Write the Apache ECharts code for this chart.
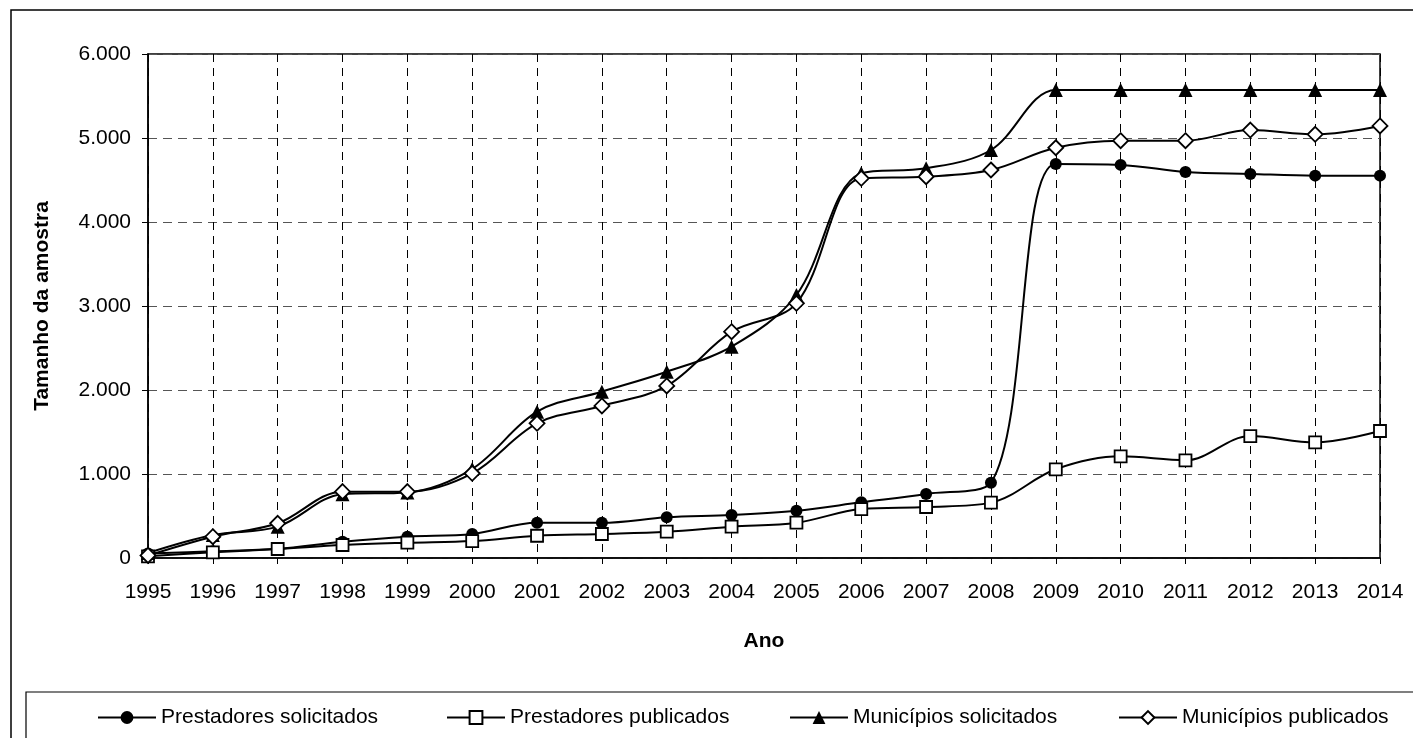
<!DOCTYPE html>
<html><head><meta charset="utf-8">
<script src="https://cdn.jsdelivr.net/npm/echarts@6/dist/echarts.min.js"></script>
<style>html,body{margin:0;padding:0;background:#fff}#c{width:1413px;height:738px}</style>
</head><body><div id="c"></div>
<script>
const years = ['1995','1996','1997','1998','1999','2000','2001','2002','2003','2004','2005','2006','2007','2008','2009','2010','2011','2012','2013','2014'];
const prestSolic = [55, 80, 110, 194, 254, 286, 420, 420, 484, 512, 563, 663, 762, 897, 4691, 4680, 4596, 4572, 4552, 4552];
const prestPubl = [20, 68, 107, 155, 182, 202, 265, 286, 313, 373, 420, 583, 607, 659, 1056, 1210, 1163, 1452, 1377, 1512];
const munSolic = [60, 274, 373, 760, 780, 1060, 1742, 1980, 2218, 2516, 3131, 4579, 4639, 4857, 5570, 5570, 5570, 5570, 5570, 5570];
const munPubl = [30, 254, 413, 790, 790, 1008, 1603, 1810, 2048, 2694, 3032, 4520, 4540, 4619, 4884, 4968, 4968, 5095, 5044, 5143];
const names = ['Prestadores solicitados','Prestadores publicados','Municípios solicitados','Municípios publicados'];

const FONT = 'Liberation Sans, Arial, sans-serif';
const chart = echarts.init(document.getElementById('c'), null, {renderer:'canvas'});
function mk(name, data, symbol, size, fill){
  return {
    name, type:'line', data, smooth:0.35, symbol, symbolSize:size,
    lineStyle:{color:'#000', width:2},
    itemStyle:{color:fill, borderColor:'#000', borderWidth: fill==='#fff'?1.8:0},
    emphasis:{disabled:true}, animation:false
  };
}
const legendLefts = [92, 441, 784, 1113];
chart.setOption({
  animation:false,
  backgroundColor:'#fff',
  textStyle:{fontFamily:FONT},
  graphic:[
    {type:'rect', shape:{x:11,y:10,width:1600,height:900}, style:{fill:'none', stroke:'#000', lineWidth:1.5}, z:-10},
    {type:'rect', shape:{x:26,y:692,width:1600,height:200}, style:{fill:'none', stroke:'#000', lineWidth:1.2}, z:-10}
  ],
  grid:{left:148, right:33, top:54, bottom:180, show:true, borderColor:'#000', borderWidth:1.5, containLabel:false},
  legend: names.map((n,i)=>({
    data:[n], left:legendLefts[i], top:702, itemWidth:58, itemHeight:16, itemGap:0,
    textStyle:{fontFamily:FONT, fontSize:21, color:'#000'}, selectedMode:false
  })),
  xAxis:{
    type:'category', data:years, boundaryGap:false,
    name:'Ano', nameLocation:'middle', nameGap:73,
    nameTextStyle:{fontFamily:FONT, fontSize:21, fontWeight:'bold', color:'#000'},
    axisLine:{lineStyle:{color:'#000', width:1.5}},
    axisTick:{show:true, length:6, lineStyle:{color:'#000'}, alignWithLabel:true},
    axisLabel:{color:'#000', fontSize:21, fontFamily:FONT, margin:24, interval:0},
    splitLine:{show:true, lineStyle:{color:'#000', type:[8,6], width:1}}
  },
  yAxis:{
    type:'value', min:0, max:6000, interval:1000,
    name:'Tamanho da amostra', nameLocation:'middle', nameGap:95, nameRotate:90,
    nameTextStyle:{fontFamily:FONT, fontSize:21, fontWeight:'bold', color:'#000'},
    axisLine:{show:true, lineStyle:{color:'#000', width:1.5}},
    axisTick:{show:true, length:6, lineStyle:{color:'#000'}},
    axisLabel:{color:'#000', fontSize:21, fontFamily:FONT, margin:17,
      formatter:v=>v===0?'0':v.toLocaleString('de-DE')},
    splitLine:{show:true, lineStyle:{color:'#555', type:[9,6], width:1.2}}
  },
  series:[
    mk(names[0], prestSolic, 'circle', 12, '#000'),
    mk(names[1], prestPubl, 'rect', 12, '#fff'),
    mk(names[2], munSolic, 'triangle', 14, '#000'),
    mk(names[3], munPubl, 'diamond', 15, '#fff')
  ]
});
</script></body></html>
